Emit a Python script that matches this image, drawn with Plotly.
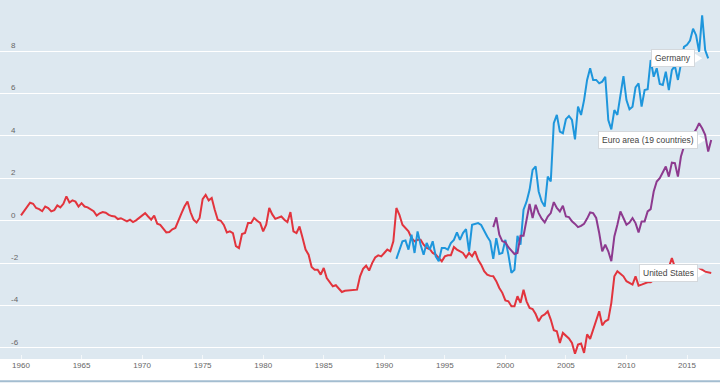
import plotly.graph_objects as go

# ---- data: current account balance, % of GDP, quarterly ----
us_start = 1960  # first quarter 1960-Q1
us_values = [
    0.25, 0.45, 0.65, 0.85,   # 1960
    0.80, 0.60, 0.55, 0.45,   # 1961
    0.67, 0.60, 0.44, 0.50,   # 1962
    0.72, 0.63, 0.80, 1.15,   # 1963
    0.86, 0.96, 0.90, 0.67,   # 1964
    0.83, 0.67, 0.63, 0.55,   # 1965
    0.45, 0.24, 0.35, 0.41,   # 1966
    0.38, 0.28, 0.22, 0.20,   # 1967
    0.08, 0.12, 0.05, -0.03,  # 1968
    0.05, -0.06, 0.02, 0.12,  # 1969
    0.25, 0.36, 0.20, 0.05,   # 1970
    0.24, -0.14, -0.19, -0.35,  # 1971
    -0.55, -0.53, -0.40, -0.34,  # 1972
    0.05, 0.35, 0.67, 0.91,   # 1973
    0.40, 0.05, -0.08, 0.13,  # 1974
    1.02, 1.22, 0.96, 1.07,   # 1975
    0.52, 0.05, 0.00, -0.20,  # 1976
    -0.55, -0.50, -0.58, -1.20,  # 1977
    -1.29, -0.63, -0.58, -0.11,  # 1978
    -0.11, 0.13, 0.00, -0.10,  # 1979
    -0.50, -0.19, 0.60, 0.30,  # 1980
    0.09, 0.15, 0.20, 0.05,   # 1981
    -0.06, 0.41, -0.50, -0.58,  # 1982
    -0.27, -0.80, -1.36, -1.60,  # 1983
    -2.18, -2.31, -2.31, -2.54,  # 1984
    -2.23, -2.70, -2.90, -3.09,  # 1985
    -3.04, -3.20, -3.36, -3.30,  # 1986
    -3.29, -3.28, -3.28, -3.25,  # 1987
    -2.62, -2.27, -2.12, -2.35,  # 1988
    -2.00, -1.73, -1.63, -1.68,  # 1989
    -1.52, -1.36, -1.44, -0.97,  # 1990
    0.60, 0.28, -0.19, -0.34,  # 1991
    -0.50, -0.82, -0.97, -0.90,  # 1992
    -0.90, -1.13, -1.28, -1.33,  # 1993
    -1.52, -1.60, -1.75, -1.91,  # 1994
    -1.68, -1.63, -1.63, -1.24,  # 1995
    -1.36, -1.44, -1.52, -1.73,  # 1996
    -1.52, -1.68, -1.44, -1.84,  # 1997
    -2.07, -2.38, -2.54, -2.60,  # 1998
    -2.62, -2.85, -3.17, -3.40,  # 1999
    -3.76, -3.80, -4.03, -4.03,  # 2000
    -3.56, -3.87, -3.25, -3.80,  # 2001
    -4.11, -4.16, -4.40, -4.74,  # 2002
    -4.50, -4.42, -4.27, -4.66,  # 2003
    -5.16, -5.21, -5.76, -5.29,  # 2004
    -5.40, -5.55, -5.76, -6.27,  # 2005
    -5.84, -5.79, -6.23, -5.36,  # 2006
    -5.57, -5.13, -4.66, -4.27,  # 2007
    -4.93, -4.74, -4.66, -3.87,  # 2008
    -2.62, -2.38, -2.50, -2.62,  # 2009
    -2.85, -2.95, -3.01, -2.62,  # 2010
    -3.06, -3.01, -2.95, -2.90,  # 2011
    -2.90, -2.80, -2.60, -2.50,  # 2012
    -2.50, -2.30, -2.20, -1.76,  # 2013
    -2.20, -2.30, -2.20, -2.30,  # 2014
    -2.30, -2.40, -2.30, -2.40,  # 2015
    -2.30, -2.31, -2.40, -2.42,  # 2016
    -2.46,                      # 2017
]

de_start = 1991
de_values = [
    -1.80, -1.36, -0.97, -0.93,  # 1991
    -1.36, -0.66, -1.52, -0.50,  # 1992
    -1.13, -1.60, -1.05, -1.36,  # 1993
    -0.97, -1.68, -1.91, -1.28,  # 1994
    -1.28, -1.36, -1.05, -0.90,  # 1995
    -0.55, -0.90, -0.58, -0.39,  # 1996
    -1.44, -0.19, -0.15, -0.11,  # 1997
    -0.20, -0.50, -0.74, -0.97,  # 1998
    -1.80, -0.82, -1.57, -1.52,  # 1999
    -0.90, -1.60, -2.46, -2.31,  # 2000
    -0.71, -1.13, 0.52, 0.90,    # 2001
    1.46, 2.40, 2.56, 1.38,      # 2002
    0.91, 0.67, 2.08, 1.85,      # 2003
    4.60, 4.99, 4.20, 4.13,      # 2004
    4.79, 4.94, 4.75, 3.84,      # 2005
    5.38, 4.99, 5.69, 6.64,      # 2006
    7.19, 6.64, 6.64, 6.48,      # 2007
    6.56, 6.79, 4.75, 4.31,      # 2008
    5.22, 4.99, 5.85, 6.82,      # 2009
    5.69, 5.26, 5.38, 6.29,      # 2010
    6.48, 5.38, 6.16, 6.20,      # 2011
    7.58, 6.79, 7.19, 6.45,      # 2012
    6.40, 7.03, 6.16, 7.10,      # 2013
    7.30, 6.64, 7.40, 8.20,      # 2014
    8.30, 8.50, 9.06, 8.75,      # 2015
    7.97, 9.69, 8.05, 7.66,      # 2016
]

ea_start = 1999
ea_values = [
    -0.30, 0.16, -0.66, -0.97,   # 1999
    -1.02, -1.25, -1.41, -1.57,  # 2000
    -1.52, -0.71, -0.71, 0.05,   # 2001
    0.79, 0.13, 0.75, 0.36,      # 2002
    0.10, -0.08, 0.20, 0.36,     # 2003
    0.88, 0.60, 0.44, 0.71,      # 2004
    0.20, 0.17, -0.03, -0.15,    # 2005
    -0.30, -0.24, -0.14, 0.10,   # 2006
    0.39, 0.36, 0.13, -0.58,     # 2007
    -1.44, -1.13, -1.44, -1.91,  # 2008
    -0.74, -0.19, 0.44, 0.13,    # 2009
    -0.19, -0.08, 0.13, -0.11,   # 2010
    -0.55, -0.03, -0.03, 0.44,   # 2011
    0.55, 1.38, 1.85, 2.01,      # 2012
    2.32, 2.56, 2.08, 2.74,      # 2013
    2.72, 2.08, 3.03, 3.50,      # 2014
    3.70, 3.90, 4.10, 4.30,      # 2015
    4.60, 4.36, 4.05, 3.26,      # 2016
    3.81,                        # 2017
]

series = [
    ("United States", us_start, us_values, "#e2343d"),
    ("Germany", de_start, de_values, "#1e96dc"),
    ("Euro area (19 countries)", ea_start, ea_values, "#8d3a8f"),
]

x_ticks = list(range(1960, 2016, 5))
y_ticks = [-6, -4, -2, 0, 2, 4, 6, 8]

FONT = "Liberation Sans, Arial, sans-serif"
fig = go.Figure()
shapes = []
annotations = []
for name, start, vals, color in series:
    xs = [start + i / 4 for i in range(len(vals))]
    fig.add_trace(go.Scatter(x=xs, y=vals, mode="lines", name=name,
                             line=dict(color=color, width=2), hoverinfo="skip"))
    lx, ly = xs[-1], vals[-1]
    shapes.append(dict(type="path", xref="x", yref="y", xsizemode="pixel", ysizemode="pixel",
                       xanchor=lx, yanchor=ly, path="M -14 -5 L -6 0 L -14 5 Z",
                       fillcolor="white", line=dict(width=0), layer="above"))
    annotations.append(dict(x=lx, y=ly, xref="x", yref="y", text=name, showarrow=False,
                            xanchor="right", yanchor="middle", xshift=-13,
                            bgcolor="white", bordercolor="#d4d8dc", borderwidth=1, borderpad=3,
                            font=dict(family=FONT, size=8.5, color="#444")))

# bottom rule under the axis labels
shapes.append(dict(type="line", xref="paper", yref="paper", x0=0, x1=1, y0=-0.062, y1=-0.062,
                   line=dict(color="#a3bdd0", width=2), layer="above"))

fig.update_layout(
    width=720, height=386,
    margin=dict(l=0, r=0, t=0, b=27, autoexpand=False),
    paper_bgcolor="white",
    plot_bgcolor="#dde8f0",
    showlegend=False,
    shapes=shapes,
    annotations=annotations,
    font=dict(family=FONT, size=8, color="#666"),
)
fig.update_xaxes(range=[1958.266, 2017.725], tickvals=x_ticks, ticktext=[str(v) for v in x_ticks],
                 automargin=False,
                 showgrid=False, zeroline=False, showline=False,
                 ticks="inside", ticklen=4, tickcolor="#f4f7f9", tickwidth=1,
                 tickfont=dict(family=FONT, size=8, color="#666"))
fig.update_yaxes(range=[-6.52, 10.41], tickvals=y_ticks, ticktext=[str(v) for v in y_ticks],
                 automargin=False,
                 showgrid=True, gridcolor="white", gridwidth=1,
                 zeroline=True, zerolinecolor="white", zerolinewidth=1, showline=False,
                 ticks="", ticklabelposition="inside", ticklabelstandoff=8, ticklabelshift=-6,
                 tickfont=dict(family=FONT, size=8, color="#666"))

fig.write_html("out.html", config={"displayModeBar": False},
               post_script="document.body.style.margin='0';document.body.style.overflow='hidden';")
